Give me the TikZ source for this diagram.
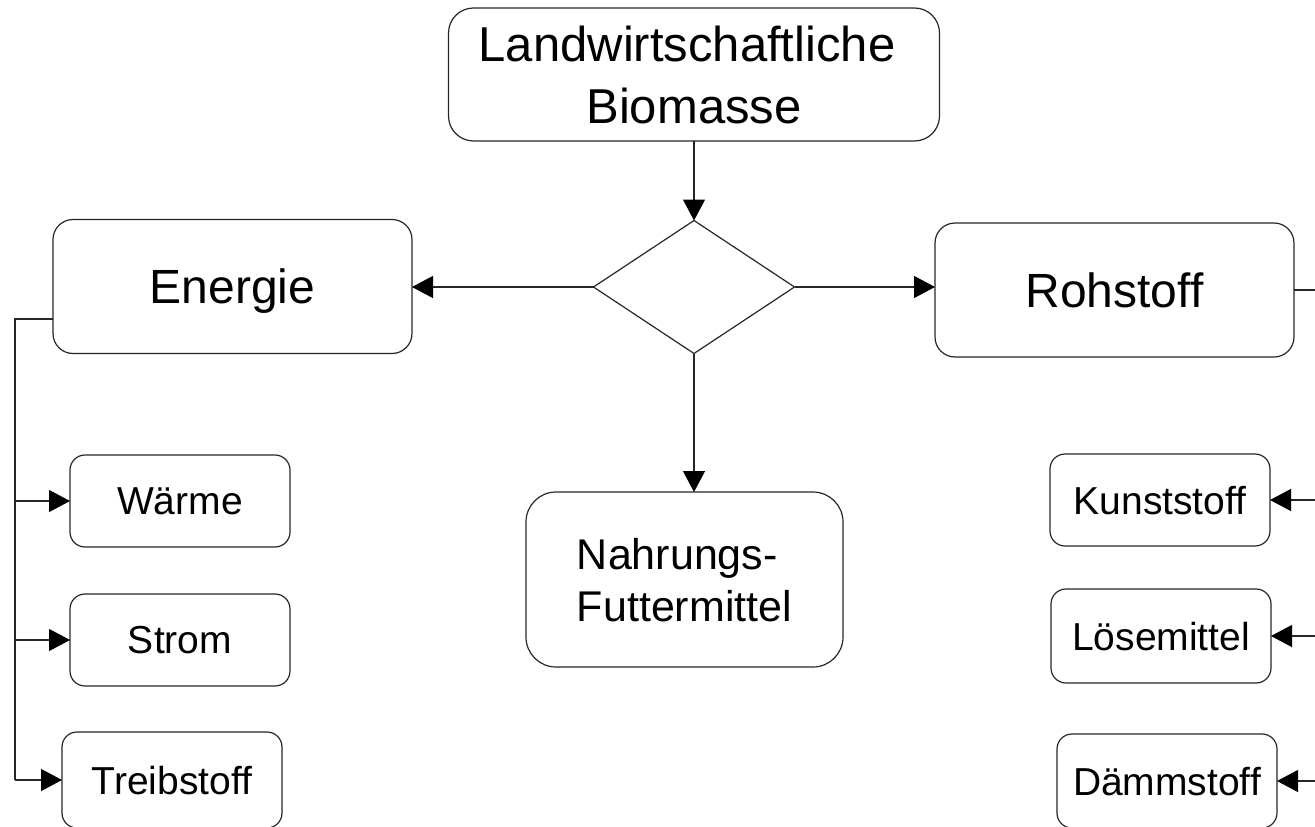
\documentclass[tikz,border=0pt]{standalone}
\usepackage{fontspec}
\setmainfont{Liberation Sans}
\usetikzlibrary{shapes.geometric,arrows.meta}
\definecolor{lc}{gray}{0.15}
\begin{document}
\begin{tikzpicture}[x=1pt,y=-1pt,
  shapeline/.style={draw=lc,line width=1.2pt,inner sep=0pt,outer sep=0pt,text depth=0pt},
  topbox/.style={shapeline,rounded corners=25pt,minimum width=491pt,minimum height=133pt,
    align=center,font=\fontsize{49}{62}\selectfont},
  bigbox/.style={shapeline,rounded corners=20pt,minimum width=359pt,minimum height=134pt,
    font=\fontsize{48}{56}\selectfont},
  foodbox/.style={shapeline,rounded corners=30pt,minimum width=317pt,minimum height=175pt,
    align=left,font=\fontsize{43}{52}\selectfont},
  smallbox/.style={shapeline,rounded corners=15pt,minimum width=220pt,minimum height=92pt,
    font=\fontsize{39}{45}\selectfont},
  choice/.style={shapeline,diamond,minimum width=201pt,minimum height=133pt},
  conn/.style={draw=lc,line width=1.2pt},
  arr/.style={conn,-{Triangle[length=21pt,width=22pt,fill=black,color=black]}}]
\useasboundingbox (0,0) rectangle (1315,827);
\clip (0,0) rectangle (1315,827);

% main flow
\node[topbox] (bio) at (694,74.5) {Landwirtschaftliche\hspace*{14pt}\\Biomasse};
\node[choice] (dec) at (694,287) {};
\node[bigbox] (en) at (232.5,286.5) {Energie};
\node[bigbox] (ro) at (1114.5,290) {Rohstoff};
\node[foodbox] (nf) at (684.5,579.5) {Nahrungs-\\Futtermittel};

\draw[arr] (bio.south) -- (dec.north);
\draw[arr] (dec.west) -- (dec.west -| en.east);
\draw[arr] (dec.east) -- (dec.east -| ro.west);
\draw[arr] (dec.south) -- (dec.south |- nf.north);

% energy branch
\node[smallbox] (wa) at (180,501) {Wärme};
\node[smallbox] (st) at (180,640) {Strom};
\node[smallbox,minimum height=96pt] (tr) at (172,780) {Treibstoff};
\coordinate (lt) at (15,319);
\draw[conn] (en.west |- lt) -- (lt) -- (lt |- tr.west);
\draw[arr] (lt |- wa.west) -- (wa.west);
\draw[arr] (lt |- st.west) -- (st.west);
\draw[arr] (lt |- tr.west) -- (tr.west);

% raw material branch
\node[smallbox] (ku) at (1160,500) {Kunststoff};
\node[smallbox,minimum height=94pt] (lo) at (1161,636) {Lösemittel};
\node[smallbox,minimum height=94pt] (da) at (1167,781) {Dämmstoff};
\coordinate (rt) at (1316,290);
\draw[conn] (ro.east) -- (rt);
\draw[arr] (rt |- ku.east) -- (ku.east);
\draw[arr] (rt |- lo.east) -- (lo.east);
\draw[arr] (rt |- da.east) -- (da.east);
\end{tikzpicture}
\end{document}
